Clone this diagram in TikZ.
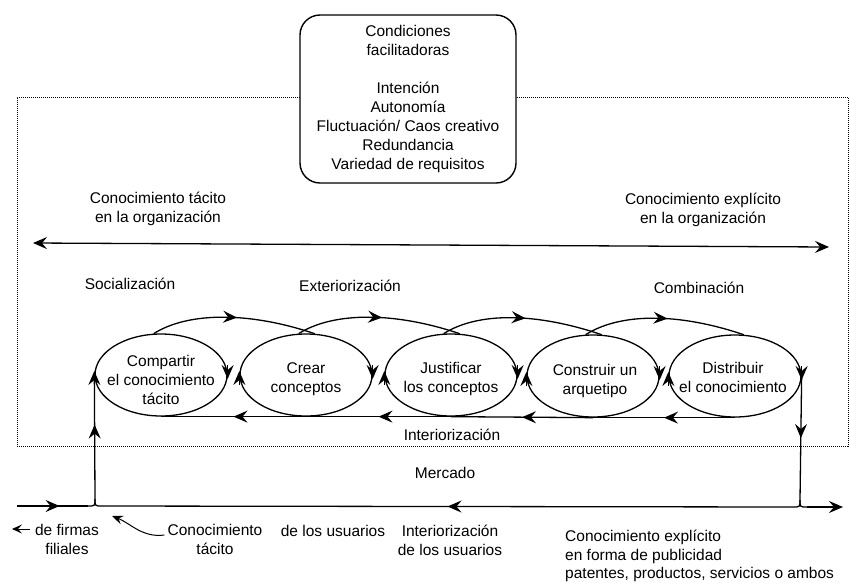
\documentclass[tikz,border=0pt]{standalone}
\usepackage{fontspec}
\setmainfont{Liberation Sans}
\usetikzlibrary{arrows.meta,shapes.geometric,decorations.markings,calc}
\tikzset{
  x=1pt, y=-1pt,
  txt/.style={font=\fontsize{15.5}{19}\selectfont, align=center, inner sep=0pt},
  head/.style={Stealth[length=14pt,width=12pt,inset=5pt]},
  flow/.style={line width=1.3pt},
  tip/.style={flow, -{Stealth[length=14pt,width=12pt,inset=5pt]}},
  midarrow/.style={flow, postaction={decorate},
    decoration={markings, mark=at position #1 with {\arrow{Stealth[length=14pt,width=12pt,inset=5pt]}}}},
  midarrow/.default=0.5,
  phase/.style={ellipse, draw, line width=1.3pt, minimum width=132pt,
    minimum height=82pt, inner sep=0pt},
  frame/.style={draw, densely dotted, line width=1pt, inner sep=0pt},
  condbox/.style={draw, rounded corners=20pt, fill=white, line width=1.4pt,
    minimum width=216pt, minimum height=168pt, txt},
}
\begin{document}
\begin{tikzpicture}
\useasboundingbox (0,0) rectangle (852,582);

% organisation boundary
\node[frame, minimum width=831pt, minimum height=349pt] (org) at (432.5,271.5) {};

% enabling conditions
\node[condbox] (cond) at (408,99) {Condiciones\\facilitadoras\\[19pt]Intención\\Autonomía\\Fluctuación/ Caos creativo\\Redundancia\\Variedad de requisitos};

% tacit / explicit axis
\node[txt] (tac) at (158,209) {Conocimiento tácito\\en la organización};
\node[txt] (exp) at (703,210) {Conocimiento explícito\\en la organización};
\coordinate (axl) at (33,243);
\coordinate (axr) at (829,247);
\draw[flow, {Stealth[length=14pt,width=12pt,inset=5pt]}-{Stealth[length=14pt,width=12pt,inset=5pt]}] (axl) -- (axr);

\node[txt] (soc) at (130,284) {Socialización};
\node[txt] (ext) at (350,286) {Exteriorización};
\node[txt] (com) at (699,288) {Combinación};

% the five phases
\node[phase] (e1) at (161,375) {};
\node[phase] (e2) at (306,375) {};
\node[phase] (e3) at (451,375) {};
\node[phase] (e4) at (593,376) {};
\node[phase] (e5) at (735,376) {};
\node[txt] (t1) at (161,380) {Compartir\\el conocimiento\\tácito};
\node[txt] (t2) at (306,379) {Crear\\conceptos};
\node[txt] (t3) at (451,379) {Justificar\\los conceptos};
\node[txt] (t4) at (595,381) {Construir un\\arquetipo};
\node[txt] (t5) at (733,377) {Distribuir\\el conocimiento};

% clockwise arrowheads on each phase
\foreach \e in {e1,e2,e3,e4,e5}{
  \draw[tip] ([yshift=10pt]\e.east) -- ([yshift=-4pt]\e.east);
  \draw[tip] ([yshift=-10pt]\e.west) -- ([yshift=4pt]\e.west);
}

% forward spiral over the tops
\foreach \a/\b in {e1/e2,e2/e3,e3/e4,e4/e5}{
  \draw[midarrow=0.52] (\a.100) .. controls ($(\a.100)+(35,-22)$) and ($(\b.78)+(-65,-22)$) .. (\b.78);
}

% internalisation back along the bottoms
\foreach \a/\b in {e5/e4,e4/e3,e3/e2,e2/e1}{
  \draw[midarrow] (\a.south) -- (\b.south);
}
\node[txt] (int) at (452,435) {Interiorización};

% market
\node[txt] (mer) at (445,473) {Mercado};
\coordinate (L) at (17,506);
\coordinate (J1) at (95,506);
\coordinate (J1u) at (95,499);
\coordinate (J1l) at (88,506);
\coordinate (J1r) at (102,506);
\coordinate (J2) at (800,507);
\coordinate (J2u) at (800,500);
\coordinate (J2l) at (793,507);
\coordinate (J2r) at (807,507);
\coordinate (R) at (843,507);

\draw[midarrow=0.6] (L) -- (J1l);
\draw[midarrow] (J2l) -- (J1r);
\draw[tip] (J2r) -- (R);
\draw[flow] (J1l) .. controls (J1) .. (J1u);
\draw[flow] (J1r) .. controls (J1) .. (J1u);
\draw[flow] (J2l) .. controls (J2) .. (J2u);
\draw[flow] (J2r) .. controls (J2) .. (J2u);
\draw[midarrow=0.6] (J1u) -- (e1.west);
\draw[midarrow=0.5] (e5.east) -- (J2u);

% market labels
\node[txt] (fir) at (67,539) {de firmas\\filiales};
\coordinate (fa1) at (30,529);
\coordinate (fa0) at (12,529);
\draw[line width=1pt, -{Stealth[length=10pt,width=9pt,inset=4pt]}] (fa1) -- (fa0);
\node[txt] (ctac) at (215,539) {Conocimiento\\tácito};
\coordinate (ctacend) at (112,516);
\draw[line width=1pt, -{Stealth[length=11pt,width=9pt,inset=4pt]}] ($(ctac.west)+(-3,-4)$) .. controls ($(ctac.west)+(-25,-1)$) and (130,523) .. (ctacend);
\node[txt] (usu) at (333,531) {de los usuarios};
\node[txt] (intu) at (450,540) {Interiorización\\de los usuarios};
\node[txt, align=left, anchor=north west, font=\fontsize{15.5}{18.5}\selectfont] (cexp) at (565,530) {Conocimiento explícito\\en forma de publicidad\\patentes, productos, servicios o ambos};
\end{tikzpicture}
\end{document}
